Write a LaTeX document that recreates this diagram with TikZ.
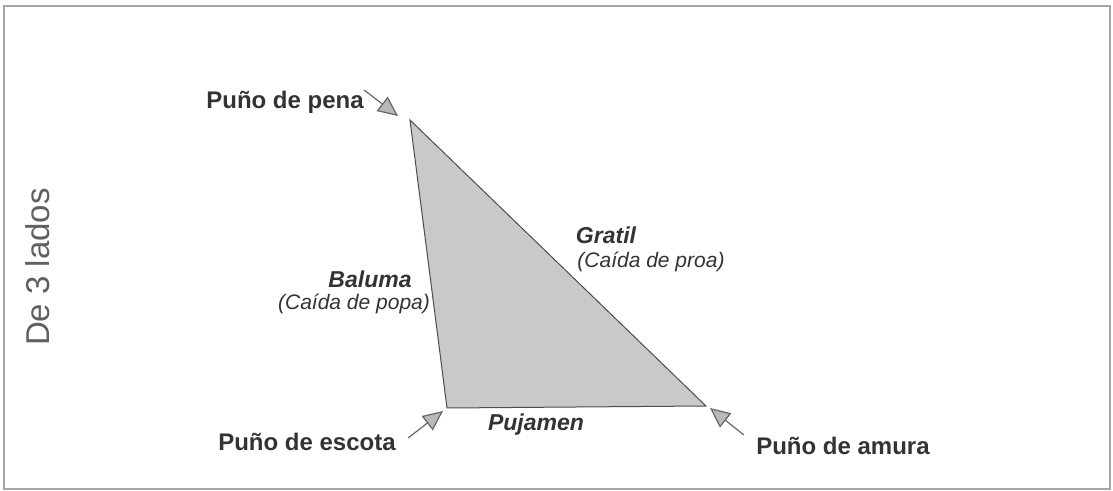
\documentclass[tikz,border=0pt]{standalone}
\usepackage{fontspec}
\setmainfont{Liberation Sans}
\usetikzlibrary{arrows.meta}
\definecolor{ink}{HTML}{333333}
\definecolor{sail}{HTML}{C9C9C9}
\begin{document}
\begin{tikzpicture}[x=0.5pt,y=-0.5pt,
    corner/.style={font=\fontsize{12}{14}\selectfont\bfseries, text=ink, inner sep=0pt},
    side/.style={font=\fontsize{11.5}{13}\selectfont\bfseries\itshape, text=ink, inner sep=0pt},
    alias/.style={font=\fontsize{10.5}{12}\selectfont\itshape, text=ink, inner sep=0pt},
    pointer/.style={draw=gray!80!black, line width=0.6pt, -{Triangle[length=10pt,width=9pt,fill=gray!55]}}]
    \useasboundingbox (0,0) rectangle (1113,491);
    \draw[gray!70, line width=0.6pt] (4,6) rectangle (1110,489);
    \coordinate (top) at (410,120);
    \coordinate (clew) at (447,408);
    \coordinate (tack) at (706,406);
    \filldraw[fill=sail, draw=gray!60!black, line width=0.5pt] (top) -- (clew) -- (tack) -- cycle;
    \node[corner] (pena) at (285,102) {Puño de pena};
    \node[corner] (escota) at (307,442) {Puño de escota};
    \node[corner] (amura) at (843,446) {Puño de amura};
    \coordinate (pena-tip) at (398,116);
    \coordinate (escota-tip) at (443,411);
    \coordinate (amura-tip) at (710,408);
    \draw[pointer] (pena.east) ++(0,-12) coordinate (pena-tail) -- (pena-tip);
    \draw[pointer] (escota.east) ++(12,-4) coordinate (escota-tail) -- (escota-tip);
    \draw[pointer] (amura.west) ++(-12,-11) coordinate (amura-tail) -- (amura-tip);
    \node[side] (gratil) at (606,235) {Gratil};
    \node[alias] (proa) at (651,262) {(Caída de proa)};
    \node[side] (baluma) at (370,279) {Baluma};
    \node[alias] (popa) at (354,304) {(Caída de popa)};
    \node[side] (pujamen) at (536,425) {Pujamen};
    \node[rotate=90, text=gray!75!black, font=\fontsize{16.5}{18}\selectfont, inner sep=0pt] (tipo) at (38,267) {De 3 lados};
\end{tikzpicture}
\end{document}
